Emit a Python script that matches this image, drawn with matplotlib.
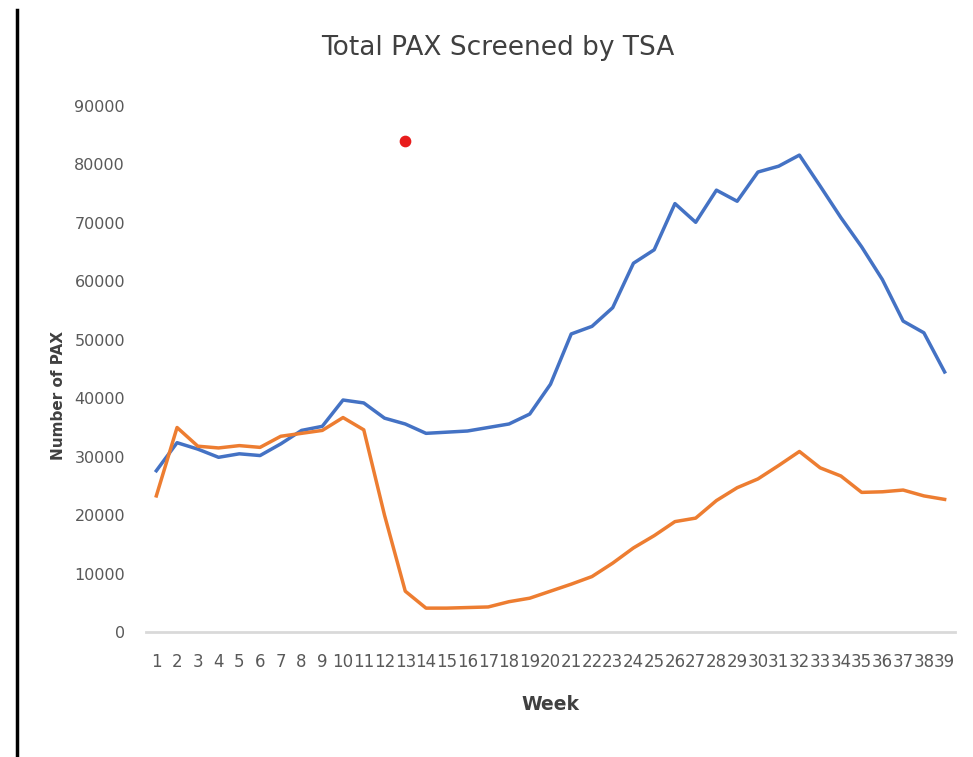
import numpy as np
import matplotlib.pyplot as plt
from matplotlib.lines import Line2D

weeks = list(range(1, 40))
pax_2019 = [27600, 32400, 31300, 29900, 30500, 30200, 32200, 34500, 35200, 39700,
            39200, 36600, 35600, 34000, 34200, 34400, 35000, 35600, 37300, 42400,
            51000, 52300, 55500, 63100, 65400, 73300, 70100, 75600, 73700, 78700,
            79700, 81600, 76300, 70900, 65900, 60300, 53200, 51200, 44500]
pax_2020 = [23300, 35000, 31800, 31500, 31900, 31600, 33500, 34000, 34500, 36700,
            34600, 20000, 7000, 4100, 4100, 4200, 4300, 5200, 5800, 7000,
            8200, 9500, 11800, 14400, 16500, 18900, 19500, 22500, 24700, 26200,
            28500, 30900, 28100, 26700, 23900, 24000, 24300, 23300, 22700]
marker_week = [13]
marker_val = [84000]
yticks = list(range(0, 90001, 10000))

plt.rcParams['font.family'] = ['DejaVu Sans']

fig = plt.figure(figsize=(9.73, 7.57), dpi=100)
ax = fig.add_axes([0.150, 0.165, 0.8315, 0.695])

ax.plot(weeks, pax_2019, color='#4472C4', lw=2.5, solid_joinstyle='round')
ax.plot(weeks, pax_2020, color='#ED7D31', lw=2.5, solid_joinstyle='round')
ax.scatter(marker_week, marker_val, color='#E81C1C', s=55, zorder=5)

ax.set_xlim(0.5, 39.5)
ax.set_ylim(0, 90000)
ax.set_xticks(weeks)
ax.set_xticklabels([str(w) for w in weeks])
ax.set_yticks(yticks)
ax.set_yticklabels([str(v) for v in yticks])
ax.tick_params(length=0, labelsize=12, labelcolor='#595959')
ax.tick_params(axis='y', pad=15, labelsize=11.5)
ax.tick_params(axis='x', pad=15)

for s in ['top', 'right', 'left']:
    ax.spines[s].set_visible(False)
ax.spines['bottom'].set_color('#D9D9D9')
ax.spines['bottom'].set_linewidth(2)

fig.text(0.512, 0.937, 'Total PAX Screened by TSA', fontsize=19, color='#404040',
         ha='center', va='center')
ax.set_xlabel('Week', fontsize=13.5, color='#404040', fontweight='bold', labelpad=17)
ax.set_ylabel('Number of PAX', fontsize=11, color='#404040', fontweight='bold')
ax.yaxis.set_label_coords(-0.099, 0.449)

# black rule along the left edge
fig.add_artist(Line2D([0.0175, 0.0175], [0, 0.987], color='black', lw=2.5,
                      transform=fig.transFigure))

fig.savefig('out.png', dpi=100)
